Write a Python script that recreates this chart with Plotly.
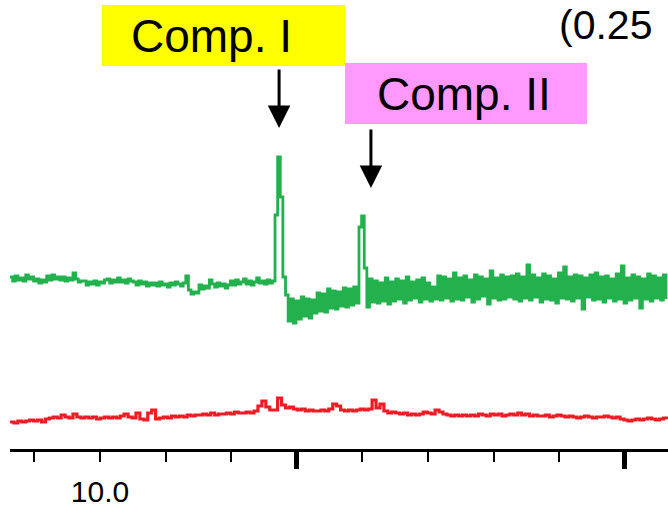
import numpy as np
import plotly.graph_objects as go

# ---------------- data ----------------
green_t0 = 9.8628      # min, first sample
green_dt = 0.004       # min per sample
green_signal = [
    172, 168, 173, 169, 171, 168,
    174, 170, 172, 168,
    170, 166, 169, 167,
    173, 169, 174, 170, 172, 169,
    172, 168, 171, 169,
    176,
    170, 167, 168,
    168, 164, 167, 165, 168, 164, 167, 166, 169,
    170, 166, 169, 167, 171, 167, 169, 166, 170, 168,
    167, 164, 168, 165, 167, 163, 166, 164,
    166, 163, 167, 164, 165, 162, 166, 164, 167, 165, 163, 166,
    173,
    159, 155, 157, 156,
    164, 160, 163, 161,
    169,
    165, 162, 166, 163, 165, 161, 164,
    168, 164, 169, 165, 167, 170, 165, 168, 164, 167, 171, 166, 168, 165, 169, 166, 168,
    234, 292, 252, 172, 154,
    128, 150, 126, 148, 130,
    152, 133, 150, 131, 149,
    136, 156, 138, 155, 137,
    160, 141, 158, 140, 157,
    143, 161, 142, 160, 144, 162, 146,
    222, 233, 181,
    142,
    170, 147, 168, 146, 166, 148, 171, 145, 167,
    148, 170, 150, 168, 146, 172, 149, 167, 151, 169, 147, 171, 150, 166, 148,
    162, 150, 173, 149, 172, 151, 170, 148, 176, 150, 171, 149, 173, 152, 169,
    147, 174, 150, 172, 153, 170, 145, 178, 151, 171, 149, 174, 150, 172, 152,
    173, 150, 175, 148, 172, 151, 184, 149, 174, 152, 171, 147, 175, 150, 173,
    149, 170, 146, 176, 151, 182, 150, 172, 148, 174, 151, 173, 140, 171, 152,
    174, 149, 176, 150, 172, 147, 173, 151, 170, 148, 175, 150, 183, 146, 171,
    149, 174, 151, 172, 141, 170, 150, 175, 148, 173, 151, 171, 149, 174, 150,
]

red_t0 = 9.8628
red_dt = 0.006
red_signal = [
    27, 26, 28, 27, 28, 29, 28, 29, 27, 30, 31, 32, 31, 34, 32, 31, 35, 32, 31, 32,
    31, 32, 30, 31, 32, 31, 32, 31, 33, 35, 32, 31, 36, 30, 29, 36, 39, 30, 31, 32,
    31, 33, 32, 33, 32, 34, 33, 34, 34, 35, 34, 36, 34, 35, 35, 36, 35, 37, 36, 36,
    37, 36, 38, 43, 48, 42, 39, 39, 51, 44, 41, 42, 40, 39, 40, 38, 39, 38, 38, 39,
    38, 40, 45, 43, 39, 38, 39, 38, 39, 40, 39, 40, 49, 41, 45, 38, 36, 37, 36, 35,
    36, 34, 35, 34, 35, 37, 36, 35, 39, 37, 35, 34, 33, 34, 33, 34, 33, 34, 33, 35,
    34, 33, 35, 34, 35, 33, 34, 35, 34, 36, 34, 35, 33, 34, 33, 33, 34, 32, 33, 34,
    33, 32, 33, 32, 31, 32, 33, 32, 31, 32, 32, 33, 32, 31, 32, 30, 29, 28, 29, 30,
    29, 30, 31, 30, 29, 30, 31, 30,
]

minor_tick_times = [9.9, 10.0, 10.1, 10.2, 10.4, 10.5, 10.6, 10.7]
major_tick_times = [10.3, 10.8]
tick_labels = {10.0: "10.0"}

comp_labels = ["Comp. I", "Comp. II"]
comp_times = [10.273, 10.413]          # retention times marked by arrows
comp_colors = ["#FFFF00", "#FF99FF"]
conc_label = "(0.25"

green_t = green_t0 + green_dt * np.arange(len(green_signal))
red_t = red_t0 + red_dt * np.arange(len(red_signal))

# ---------------- figure ----------------
W, H = 668, 507
ML, MB = 10, 58
PW, PH = W - ML, H - MB
X0, X1 = 10.0 - 90 / 656, 10.0 + 568 / 656


def px(xp):   # pixel x -> paper
    return (xp - ML) / PW


def py(yp):   # pixel y -> paper
    return (PH - yp) / PH


def yd(yp):   # pixel y -> y data units (1 unit = 1 px)
    return PH - yp


fig = go.Figure()
fig.add_trace(go.Scatter(x=green_t, y=green_signal, mode="lines",
                         line=dict(color="#22B14C", width=2.8, shape="hv"),
                         hoverinfo="skip", showlegend=False))
fig.add_trace(go.Scatter(x=red_t, y=red_signal, mode="lines",
                         line=dict(color="#ED1C24", width=3.2, shape="hv"),
                         hoverinfo="skip", showlegend=False))

# label boxes
boxes = [(102, 345, 5, 66), (345, 587, 63, 124)]
for (xa, xb, ya, yb), col in zip(boxes, comp_colors):
    fig.add_shape(type="rect", xref="paper", yref="paper",
                  x0=px(xa), x1=px(xb), y0=py(yb), y1=py(ya),
                  fillcolor=col, line=dict(width=0), layer="below")

text_pos = [(211.5, 36), (463.5, 94)]
for lab, (tx, ty) in zip(comp_labels, text_pos):
    fig.add_annotation(text=lab, xref="paper", yref="paper", x=px(tx), y=py(ty),
                       xanchor="center", yanchor="middle", showarrow=False,
                       font=dict(family="Arial, Liberation Sans", size=46, color="black"))

# arrows
arrow_spans = [(68, 128), (128, 188)]
for t, (ya, yb) in zip(comp_times, arrow_spans):
    fig.add_annotation(text="", x=t, y=yd(yb), ax=t, ay=yd(ya),
                       xref="x", yref="y", axref="x", ayref="y",
                       showarrow=True, arrowhead=2, arrowsize=1.5, arrowwidth=3,
                       arrowcolor="black", standoff=0)

fig.add_annotation(text=conc_label, xref="paper", yref="paper", x=px(557), y=py(25),
                   xanchor="left", yanchor="middle", showarrow=False,
                   font=dict(family="Arial, Liberation Sans", size=41, color="black"))

fig.update_layout(
    width=W, height=H,
    margin=dict(l=ML, r=0, t=0, b=MB, pad=0, autoexpand=False),
    paper_bgcolor="white", plot_bgcolor="white",
    showlegend=False,
    xaxis=dict(range=[X0, X1], showgrid=False, zeroline=False, automargin=False,
               showline=True, linecolor="black", linewidth=3,
               tickmode="array", tickvals=minor_tick_times,
               ticktext=[tick_labels.get(v, "") for v in minor_tick_times],
               ticks="outside", ticklen=10, tickwidth=2, tickcolor="black",
               ticklabelstandoff=4,
               tickfont=dict(family="Arial, Liberation Sans", size=30, color="black"),
               minor=dict(tickmode="array", tickvals=major_tick_times,
                          ticks="outside", ticklen=17, tickwidth=4.5, tickcolor="black")),
    yaxis=dict(range=[0, PH], visible=False, automargin=False),
)

fig.write_html("out.html", config={"displayModeBar": False},
               post_script="document.body.style.margin='0';document.body.style.overflow='hidden';")
